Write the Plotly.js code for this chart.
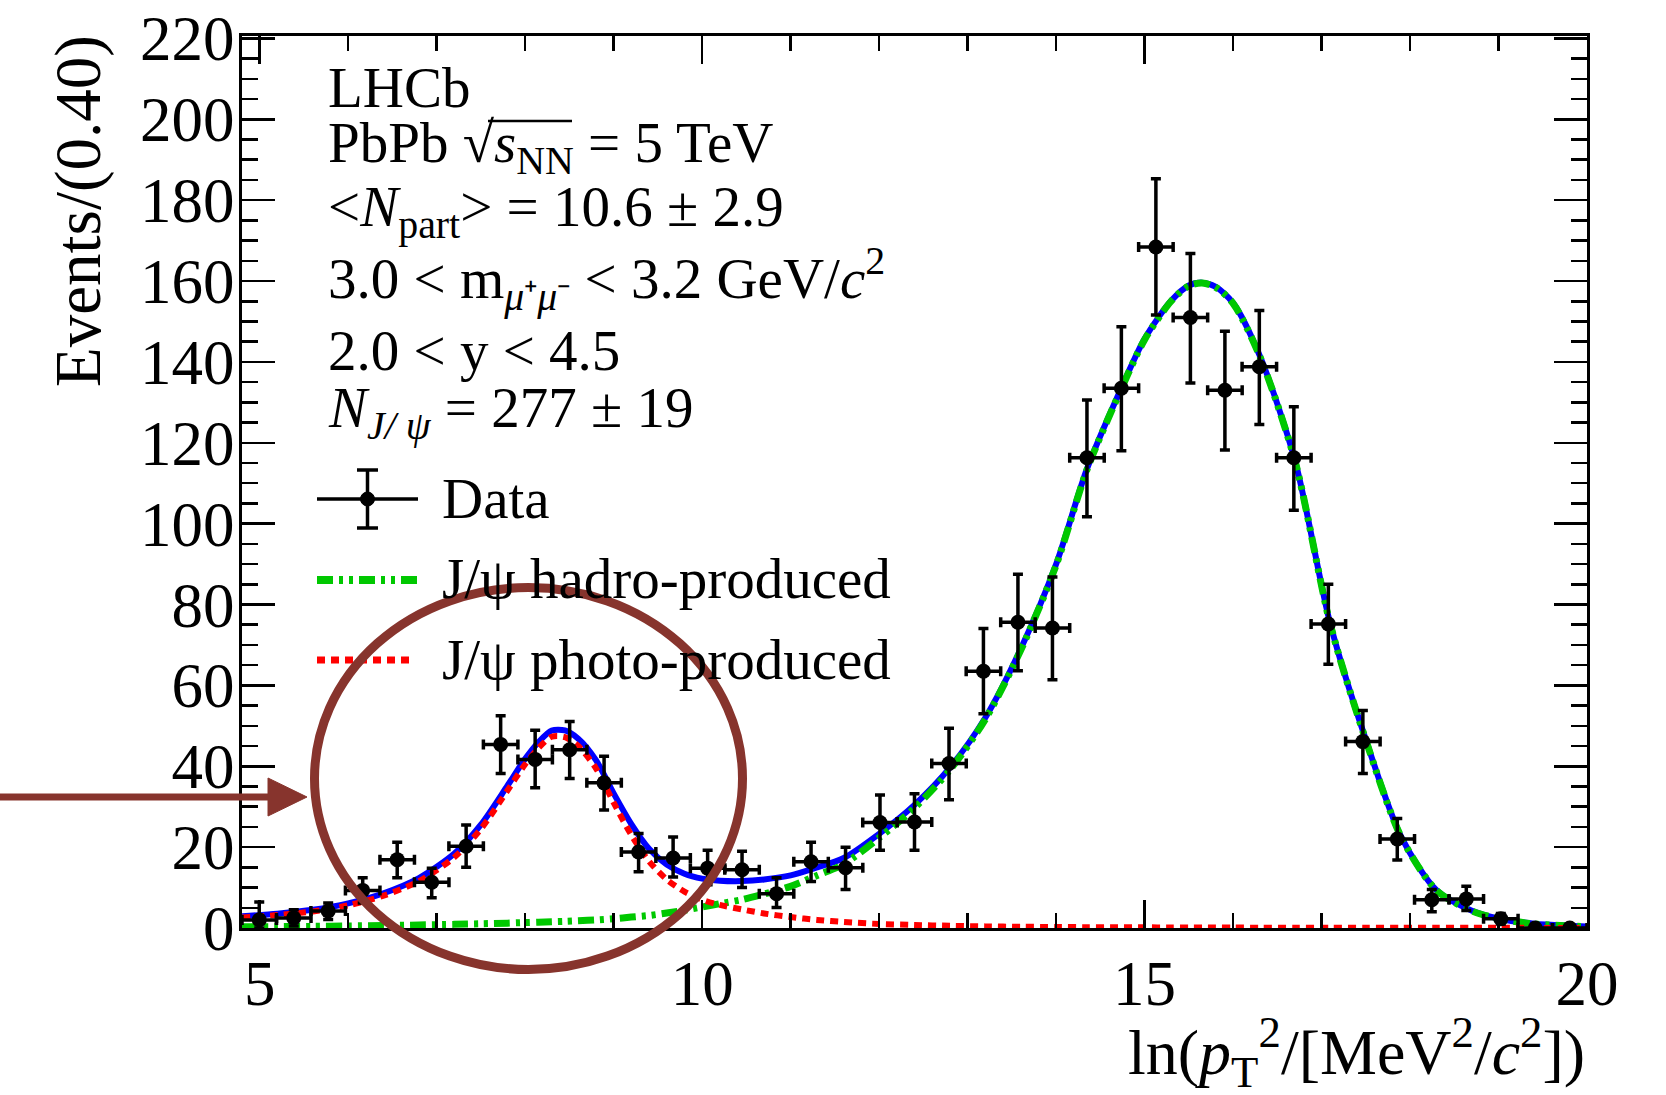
<!DOCTYPE html>
<html>
<head>
<meta charset="utf-8">
<script src="https://cdn.plot.ly/plotly-3.0.1.min.js"></script>
<style>
html,body{margin:0;padding:0;background:#fff;}
#chart{width:1666px;height:1095px;}
</style>
</head>
<body>
<div id="chart"></div>
<script>
// ---------------- data ----------------
const binCenters = [4.995, 5.385, 5.774, 6.164, 6.554, 6.944, 7.333, 7.723, 8.113, 8.503,
  8.892, 9.282, 9.672, 10.062, 10.451, 10.841, 11.231, 11.621, 12.010, 12.400,
  12.790, 13.179, 13.569, 13.959, 14.349, 14.738, 15.128, 15.518, 15.908, 16.297,
  16.687, 17.077, 17.467, 17.856, 18.246, 18.636, 19.026, 19.415, 19.805];
const binHalfWidth = 0.195;
const events = [2.0, 2.5, 4.2, 9.3, 16.9, 11.3, 20.2, 45.4, 41.7, 44.1,
  35.9, 18.8, 17.3, 14.8, 14.4, 8.5, 16.4, 14.9, 26.1, 26.2,
  40.7, 63.5, 75.6, 74.2, 116.3, 133.5, 168.4, 151.0, 133.0, 138.8,
  116.3, 75.2, 46.1, 22.0, 7.0, 7.2, 2.3, 0, 0];
const errUp = [4.4, 2.0, 2.0, 3.1, 4.3, 3.5, 5.3, 7.1, 7.2, 7.0,
  6.6, 4.6, 5.2, 4.4, 4.6, 3.9, 4.8, 5.1, 6.8, 7.0,
  8.7, 10.6, 11.9, 12.6, 14.3, 15.2, 16.9, 15.8, 14.6, 13.9,
  12.6, 9.8, 7.7, 5.1, 2.5, 3.1, 1.3, 0, 0];
const errDown = [2.0, 2.0, 2.1, 3.1, 4.5, 3.8, 5.2, 7.2, 7.0, 7.1,
  6.7, 4.9, 4.7, 4.1, 4.4, 3.4, 4.9, 5.4, 6.9, 7.0,
  9.0, 10.5, 12.0, 12.8, 14.6, 15.5, 16.8, 16.2, 14.8, 14.3,
  13.0, 10.0, 7.9, 5.2, 3.0, 2.9, 1.3, 0, 0];

const fitX = [4.8, 5.2, 5.6, 6.0, 6.4, 6.8, 7.2, 7.5, 7.8, 8.0,
  8.15, 8.3, 8.45, 8.6, 8.8, 9.0, 9.2, 9.4, 9.6, 9.8,
  10.0, 10.2, 10.45, 10.7, 11.0, 11.3, 11.6, 12.0, 12.4, 12.8,
  13.2, 13.6, 14.0, 14.35, 14.7, 15.0, 15.3, 15.5, 15.65, 15.8,
  16.0, 16.3, 16.7, 17.1, 17.5, 17.9, 18.3, 18.7, 19.0, 19.4,
  19.8, 20.0];
const fitTotal = [2.9, 3.55, 4.5, 6.1, 8.6, 12.35, 18.4, 25.55, 35.2, 41.85,
  45.95, 48.85, 48.85, 46.8, 41.5, 33.3, 25.7, 19.6, 15.7, 13.4,
  12.2, 11.7, 11.6, 12.0, 13.0, 15.0, 17.3, 23.3, 30.45, 39.65,
  52.0, 69.0, 89.95, 113.6, 131.7, 145.7, 155.1, 158.9, 159.6, 158.6,
  154.6, 141.6, 115.6, 75.1, 46.6, 22.55, 9.35, 4.25, 2.35, 1.05,
  0.55, 0.4];
const fitHadro = [0.3, 0.35, 0.4, 0.5, 0.6, 0.75, 0.9, 1.05, 1.2, 1.35,
  1.45, 1.55, 1.65, 1.8, 2.0, 2.3, 2.7, 3.1, 3.7, 4.4,
  5.2, 6.0, 7.0, 8.4, 10.3, 13.0, 15.8, 22.3, 29.7, 39.1,
  51.6, 68.7, 89.7, 113.4, 131.5, 145.5, 155.0, 158.8, 159.5, 158.5,
  154.5, 141.5, 115.5, 75.0, 46.5, 22.5, 9.3, 4.2, 2.3, 1.0,
  0.5, 0.35];
const fitPhoto = [2.6, 3.2, 4.1, 5.6, 8.0, 11.6, 17.5, 24.5, 34.0, 40.5,
  44.5, 47.3, 47.2, 45.0, 39.5, 31.0, 23.0, 16.5, 12.0, 9.0,
  7.0, 5.7, 4.6, 3.6, 2.7, 2.0, 1.5, 1.0, 0.75, 0.55,
  0.4, 0.3, 0.25, 0.2, 0.18, 0.16, 0.14, 0.13, 0.12, 0.11,
  0.1, 0.09, 0.08, 0.07, 0.06, 0.05, 0.05, 0.04, 0.04, 0.03,
  0.03, 0.03];

const legendLabels = ["Data", "J/ψ hadro-produced", "J/ψ photo-produced"];
const infoLines = [
  "LHCb",
  "PbPb √<i>s</i><sub>NN</sub> = 5 TeV",
  "&lt;<i>N</i><sub>part</sub>&gt; = 10.6 ± 2.9",
  "3.0 &lt; m<sub><i>μ</i>⁺<i>μ</i>⁻</sub> &lt; 3.2 GeV/<i>c</i><sup>2</sup>",
  "2.0 &lt; y &lt; 4.5",
  "<i>N</i><sub><i>J/ ψ</i></sub> = 277 ± 19"
];
const xTitle = "ln(<i>p</i><sub>T</sub><sup>2</sup>/[MeV<sup>2</sup>/<i>c</i><sup>2</sup>])";
const yTitle = "Events/(0.40)";

// ---------------- styling / layout ----------------
const FONT = "Liberation Serif, Times New Roman, serif";
const BLUE = "#0000ff", GREEN = "#00c800", RED = "#ff0000", BROWN = "#87342d";
const greenDash = "16px,6px,4px,6px,4px,6px";
const redDash = "8px,6px";

const W = 1666, H = 1095;
const L = 242, R = 1587, T = 36, B = 928;
const px = x => (x - L) / (R - L);
const py = y => (B - y) / (B - T);

const traces = [
  {x: fitX, y: fitTotal, type: "scatter", mode: "lines", name: "Total fit",
   line: {color: BLUE, width: 6, shape: "spline", smoothing: 0.8}, hoverinfo: "skip"},
  {x: fitX, y: fitHadro, type: "scatter", mode: "lines", name: legendLabels[1],
   line: {color: GREEN, width: 7, dash: greenDash, shape: "spline", smoothing: 0.8}, hoverinfo: "skip"},
  {x: fitX, y: fitPhoto, type: "scatter", mode: "lines", name: legendLabels[2],
   line: {color: RED, width: 6, dash: redDash, shape: "spline", smoothing: 0.8}, hoverinfo: "skip"},
  {x: binCenters, y: events, type: "scatter", mode: "markers", name: legendLabels[0],
   marker: {color: "black", size: 15},
   error_y: {type: "data", symmetric: false, array: errUp, arrayminus: errDown,
             color: "black", thickness: 3.5, width: 5},
   error_x: {type: "constant", value: binHalfWidth, color: "black", thickness: 3.5, width: 5}}
];

const shapes = [];
// hand-made legend symbols (ROOT style)
const yData = 499, yHad = 580, yPho = 660;
shapes.push({type: "line", xref: "paper", yref: "paper", x0: px(317), x1: px(418), y0: py(yData), y1: py(yData), line: {color: "black", width: 3.5}});
shapes.push({type: "line", xref: "paper", yref: "paper", x0: px(367.5), x1: px(367.5), y0: py(470), y1: py(528), line: {color: "black", width: 3.5}});
shapes.push({type: "line", xref: "paper", yref: "paper", x0: px(357), x1: px(378), y0: py(470), y1: py(470), line: {color: "black", width: 3.5}});
shapes.push({type: "line", xref: "paper", yref: "paper", x0: px(357), x1: px(378), y0: py(528), y1: py(528), line: {color: "black", width: 3.5}});
shapes.push({type: "circle", xref: "paper", yref: "paper", x0: px(360.5), x1: px(374.5), y0: py(506), y1: py(492), fillcolor: "black", line: {color: "black", width: 1}});
shapes.push({type: "line", xref: "paper", yref: "paper", x0: px(317), x1: px(418), y0: py(yHad), y1: py(yHad), line: {color: GREEN, width: 8, dash: greenDash}});
shapes.push({type: "line", xref: "paper", yref: "paper", x0: px(317), x1: px(412), y0: py(yPho), y1: py(yPho), line: {color: RED, width: 7, dash: redDash}});
// overline of the square root in sqrt(s_NN)
shapes.push({type: "line", xref: "paper", yref: "paper", x0: px(488), x1: px(572), y0: py(121), y1: py(121), line: {color: "black", width: 2.5}});
// highlight circle and arrow
shapes.push({type: "circle", xref: "paper", yref: "paper", layer: "above",
  x0: px(314.5), x1: px(742.5), y0: py(969.5), y1: py(587.5), line: {color: BROWN, width: 9}});
shapes.push({type: "line", xref: "paper", yref: "paper", layer: "above",
  x0: px(0), x1: px(272), y0: py(797), y1: py(797), line: {color: BROWN, width: 7}});
shapes.push({type: "path", xref: "paper", yref: "paper", layer: "above",
  path: `M ${px(268)} ${py(778)} L ${px(307)} ${py(797)} L ${px(268)} ${py(816)} Z`,
  fillcolor: BROWN, line: {color: BROWN, width: 1}});

const annotations = [];
const infoY = [87, 147, 211, 278, 350, 412];
infoLines.forEach((t, i) => annotations.push({
  xref: "paper", yref: "paper", x: px(326), y: py(infoY[i]), xanchor: "left", yanchor: "middle",
  text: t, showarrow: false, font: {family: FONT, size: 57, color: "black"}
}));
[yData, yHad, yPho].forEach((yy, i) => annotations.push({
  xref: "paper", yref: "paper", x: px(440), y: py(yy - 1), xanchor: "left", yanchor: "middle",
  text: legendLabels[i], showarrow: false, font: {family: FONT, size: 57, color: "black"}
}));
annotations.push({xref: "paper", yref: "paper", x: px(78), y: py(211), xanchor: "center", yanchor: "middle",
  textangle: -90, text: yTitle, showarrow: false, font: {family: FONT, size: 65, color: "black"}});
annotations.push({xref: "paper", yref: "paper", x: 1, y: py(1052), xanchor: "right", yanchor: "middle",
  text: xTitle, showarrow: false, font: {family: FONT, size: 64, color: "black"}});

const axisCommon = {
  showline: true, linecolor: "black", linewidth: 3, mirror: "ticks",
  ticks: "inside", tickcolor: "black", tickwidth: 2.5,
  showgrid: false, zeroline: false,
  tickfont: {family: FONT, size: 63, color: "black"}
};

const layout = {
  width: W, height: H,
  margin: {l: L, r: W - R, t: T, b: H - B, pad: 0},
  paper_bgcolor: "white", plot_bgcolor: "white",
  showlegend: false,
  font: {family: FONT, color: "black"},
  xaxis: Object.assign({}, axisCommon, {
    range: [4.8, 20], tick0: 0, dtick: 5, ticklen: 28, ticklabelstandoff: -2,
    minor: {dtick: 1, ticks: "inside", ticklen: 15, tickwidth: 2.5, tickcolor: "black", showgrid: false}
  }),
  yaxis: Object.assign({}, axisCommon, {
    range: [0, 220.6], tick0: 0, dtick: 20, ticklen: 33, ticklabelstandoff: -8,
    minor: {dtick: 5, ticks: "inside", ticklen: 16, tickwidth: 2.5, tickcolor: "black", showgrid: false}
  }),
  shapes: shapes,
  annotations: annotations
};

Plotly.newPlot("chart", traces, layout, {displayModeBar: false, staticPlot: true});
</script>
</body>
</html>
